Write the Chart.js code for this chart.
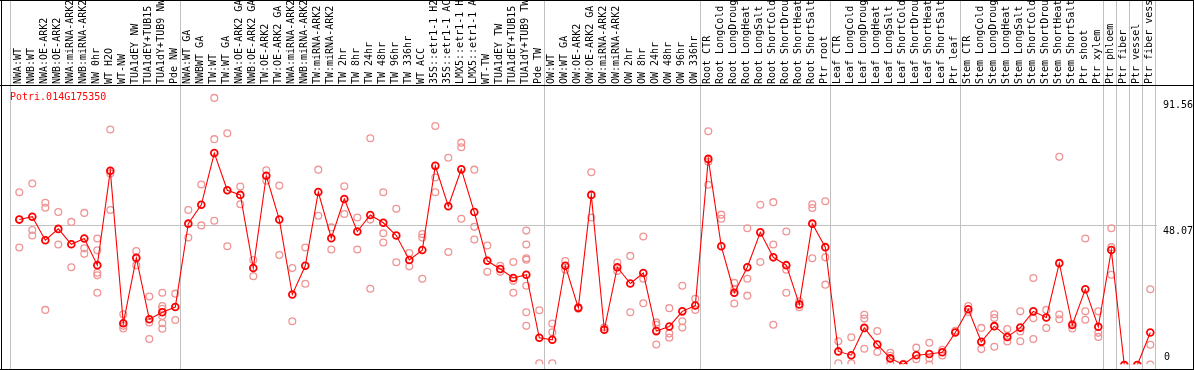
<!DOCTYPE html>
<html>
<head>
<meta charset="utf-8">
<script src="https://cdn.jsdelivr.net/npm/chart.js@4.4.0/dist/chart.umd.min.js"></script>
<style>
  html, body { margin: 0; padding: 0; background: #fff; }
  canvas { display: block; }
</style>
</head>
<body>
<canvas id="geneChart" width="1194" height="370"></canvas>
<script>
// Gene and sample names
const geneId = "Potri.014G175350";
const sampleLabels = [
  "NWA:WT", "NWB:WT", "NWA:OE-ARK2", "NWB:OE-ARK2", "NWA:miRNA-ARK2", "NWB:miRNA-ARK2",
  "NW 0hr", "WT H2O", "WT-NW", "TUA1dEY NW", "TUA1dEY+TUB15", "TUA1dY+TUB9 NW", "Pde NW",
  "NWA:WT GA", "NWBWT GA", "TW:WT", "TW:WT GA", "NWA:OE-ARK2 GA", "NWB:OE-ARK2 GA",
  "TW:OE-ARK2", "TW:OE-ARK2 GA", "NWA:miRNA-ARK2", "NWB:miRNA-ARK2", "TW:miRNA-ARK2",
  "TW:miRNA-ARK2", "TW 2hr", "TW 8hr", "TW 24hr", "TW 48hr", "TW 96hr", "TW 336hr",
  "WT ACC", "35S::etr1-1 H2", "35S::etr1-1 AC", "LMX5::etr1-1 H", "LMX5::etr1-1 A",
  "WT-TW", "TUA1dEY TW", "TUA1dEY+TUB15", "TUA1dY+TUB9 TW", "Pde TW",
  "OW:WT", "OW:WT GA", "OW:OE-ARK2", "OW:OE-ARK2 GA", "OW:miRNA-ARK2", "OW:miRNA-ARK2",
  "OW 2hr", "OW 8hr", "OW 24hr", "OW 48hr", "OW 96hr", "OW 336hr",
  "Root CTR", "Root LongCold", "Root LongDroug", "Root LongHeat", "Root LongSalt",
  "Root ShortCold", "Root ShortDrou", "Root ShortHeat", "Root ShortSalt", "Ptr root",
  "Leaf CTR", "Leaf LongCold", "Leaf LongDroug", "Leaf LongHeat", "Leaf LongSalt",
  "Leaf ShortCold", "Leaf ShortDrou", "Leaf ShortHeat", "Leaf ShortSalt", "Ptr leaf",
  "Stem CTR", "Stem LongCold", "Stem LongDroug", "Stem LongHeat", "Stem LongSalt",
  "Stem ShortCold", "Stem ShortDrou", "Stem ShortHeat", "Stem ShortSalt", "Ptr shoot",
  "Ptr xylem", "Ptr phloem", "Ptr fiber", "Ptr vessel", "Ptr fiber vess"
];

// Mean expression per sample
const meanValues = [
  50.1, 51.1, 43.0, 46.9, 41.6, 43.6, 34.4, 66.9, 14.4, 36.9, 15.8, 18.2, 20.0,
  48.7, 55.2, 73.0, 60.2, 58.6, 33.4, 65.2, 50.1, 24.3, 34.2, 59.6, 43.7, 57.2, 46.0,
  51.7, 49.0, 44.6, 36.2, 39.6, 68.6, 54.7, 67.4, 52.7, 35.9, 33.1, 30.0, 31.1, 9.4,
  8.7, 34.2, 19.7, 58.6, 12.2, 33.7, 28.1, 31.7, 11.7, 13.3, 18.5, 20.5,
  71.0, 40.9, 24.9, 33.7, 45.7, 37.1, 34.4, 20.9, 48.7, 40.6,
  4.7, 3.4, 12.8, 7.1, 2.3, 0.2, 3.4, 3.8, 4.4, 11.2,
  19.2, 8.0, 13.4, 9.7, 12.9, 18.5, 16.4, 35.1, 13.8, 26.1, 13.2,
  39.6, 0, 0, 11.2
];

// Replicate values per sample
const replicateValues = [
  [59.5, 50.1, 40.5], [62.5, 46.5, 44.6], [55.9, 54.2, 19.0], [52.7, 41.5], [49.3, 33.7],
  [52.4, 40.2, 38.3], [43.6, 39.5, 31.8, 30.9, 24.9], [81.1, 66.0, 53.4], [17.5, 13.5, 12.6],
  [39.3, 34.4], [23.6, 14.7, 9.0], [24.9, 20.3, 19.4, 16.9, 14.4, 12.5], [24.6, 15.5],
  [53.4, 43.9], [62.2, 48.1], [92.0, 77.8, 49.7], [79.8, 40.9], [61.5, 55.4], [36.2, 30.6],
  [67.1, 63.5], [61.8, 37.9], [33.4, 15.1], [40.5, 28.0], [67.3, 51.4], [47.4, 39.8],
  [61.6, 52.0], [50.8, 39.8], [78.1, 50.1, 26.3], [59.5, 45.4, 42.2], [53.8, 35.4],
  [38.6, 34.0], [45.1, 43.9, 29.7], [82.3, 64.6, 59.5], [71.4, 38.9], [76.6, 75.0, 50.4],
  [67.3, 47.6, 43.2], [41.2, 32.1], [34.2, 32.1], [35.5, 29.0, 24.9],
  [46.3, 41.5, 36.8, 36.3, 27.3, 18.2, 13.5], [18.9, 0.6],
  [14.3, 11.3, 0.6], [35.8, 32.8], [19.4, 19.9], [66.4, 50.8], [13.0], [35.3, 32.4],
  [37.6, 18.2], [44.3, 29.7, 21.3], [14.7, 13.9, 7.1], [19.6, 10.9, 9.4], [27.3, 15.1, 12.9],
  [22.8, 19.0],
  [80.5, 70.0, 62.1], [51.8, 50.4], [28.3, 26.2, 21.2], [47.1, 29.7, 23.9], [55.2, 35.5],
  [56.1, 41.5, 13.9], [46.0, 32.8, 24.9], [22.0, 19.9], [55.4, 54.1, 36.8], [56.4, 37.1, 27.7],
  [8.2, 0.6], [9.6, 0.6], [17.3, 16.0, 5.6], [11.7, 4.5], [4.2, 3.2, 0.6], [0.4], [6.0, 2.0],
  [7.7, 2.3, 0.2], [5.3, 3.3], [11.8],
  [20.3, 18.3], [12.8, 5.5], [17.5, 16.2, 6.3], [12.4, 8.1], [18.5, 11.6, 8.2],
  [30.0, 16.1, 9.0], [19.0, 12.8], [71.7, 17.4, 15.8], [14.2, 12.6], [43.6, 18.5, 15.6],
  [18.5, 11.1, 9.7],
  [47.1, 40.6, 31.1], [0], [0], [26.1, 7.0, 0.2]
];

// Last sample index of each group (gray separators)
const groupEnds = [12, 40, 52, 62, 72, 83, 84, 85, 86, 87];

// Right axis labels
const yTickValues = [91.56, 48.07, 0];
const yGridValue = 48.07;

const monoFont = "10px 'DejaVu Sans Mono', monospace";

// Gambar bingkai, garis pemisah, label sampel dan label sumbu
const frameplugin = {
  id: "frameplugin",
  beforeDraw(chart) {
    const ctx = chart.ctx;
    ctx.save();
    ctx.fillStyle = "#ffffff";
    ctx.fillRect(0, 0, chart.width, chart.height);
    ctx.restore();
  },
  beforeDatasetsDraw(chart) {
    const ctx = chart.ctx;
    const x = chart.scales.x;
    const y = chart.scales.y;
    const H = chart.height;
    ctx.save();
    ctx.fillStyle = "#c0c0c0";
    const lineXs = [Math.round(x.getPixelForValue(-0.5)) - 3];
    groupEnds.forEach((i) => lineXs.push(Math.round(x.getPixelForValue(i + 0.5)) - 2));
    lineXs.forEach((lx) => ctx.fillRect(lx, 0, 1, H));
    // Garis grid horizontal
    const gy = Math.round(y.getPixelForValue(yGridValue));
    ctx.fillRect(lineXs[0], gy, lineXs[lineXs.length - 1] - lineXs[0] + 2, 1);
    ctx.restore();
  },
  afterDraw(chart) {
    const ctx = chart.ctx;
    const x = chart.scales.x;
    const y = chart.scales.y;
    const W = chart.width;
    const H = chart.height;
    ctx.save();
    // Bingkai hitam
    ctx.fillStyle = "#000000";
    ctx.fillRect(0, 0, W, 1);
    ctx.fillRect(1, 0, 1, H);
    ctx.fillRect(W - 1, 0, 1, H);
    ctx.fillRect(0, H - 1, W, 1);
    ctx.fillRect(0, 85, W, 1);

    // Label sampel (vertikal)
    ctx.font = monoFont;
    ctx.fillStyle = "#000000";
    ctx.textAlign = "left";
    ctx.textBaseline = "middle";
    sampleLabels.forEach((label, i) => {
      const px = x.getPixelForValue(i) - 1;
      ctx.save();
      ctx.translate(px, 84);
      ctx.rotate(-Math.PI / 2);
      ctx.fillText(label, 0, 0);
      ctx.restore();
    });

    // Judul gen
    ctx.fillStyle = "#ff0000";
    ctx.textBaseline = "top";
    ctx.fillText(geneId, 10, 92);

    // Label sumbu kanan
    ctx.fillStyle = "#000000";
    yTickValues.forEach((v) => {
      const py = y.getPixelForValue(v);
      const txt = v === 0 ? "0" : v.toFixed(2);
      if (v === 0) {
        ctx.textBaseline = "bottom";
        ctx.fillText(txt, 1164, py - 3);
      } else {
        ctx.textBaseline = "top";
        ctx.fillText(txt, 1163, py + 1);
      }
    });
    ctx.restore();
  },
};

const meanPoints = meanValues.map((v, i) => ({ x: i, y: v }));
const repPoints = replicateValues.flatMap((arr, i) => arr.map((v) => ({ x: i, y: v })));

const ctx = document.getElementById("geneChart").getContext("2d");
const geneChart = new Chart(ctx, {
  type: "line",
  data: {
    datasets: [
      {
        label: "mean",
        data: meanPoints,
        borderColor: "#ff0000",
        borderWidth: 1.1,
        pointRadius: 3.4,
        pointBorderWidth: 1.8,
        pointBorderColor: "#ff0000",
        pointBackgroundColor: "rgba(0,0,0,0)",
        tension: 0,
      },
      {
        label: "replicates",
        data: repPoints,
        showLine: false,
        pointRadius: 3.4,
        pointBorderWidth: 1.3,
        pointBorderColor: "#ef9595",
        pointBackgroundColor: "rgba(0,0,0,0)",
      },
    ],
  },
  options: {
    responsive: false,
    animation: false,
    devicePixelRatio: 1,
    layout: {
      padding: { left: 12.8, right: 37.2, top: 86, bottom: 1 },
    },
    scales: {
      x: { type: "linear", display: false, min: -0.5, max: 87.5 },
      y: { type: "linear", display: false, min: 0.3, max: 96.1 },
    },
    plugins: {
      legend: { display: false },
      tooltip: { enabled: false },
    },
  },
  plugins: [frameplugin],
});
</script>
</body>
</html>
